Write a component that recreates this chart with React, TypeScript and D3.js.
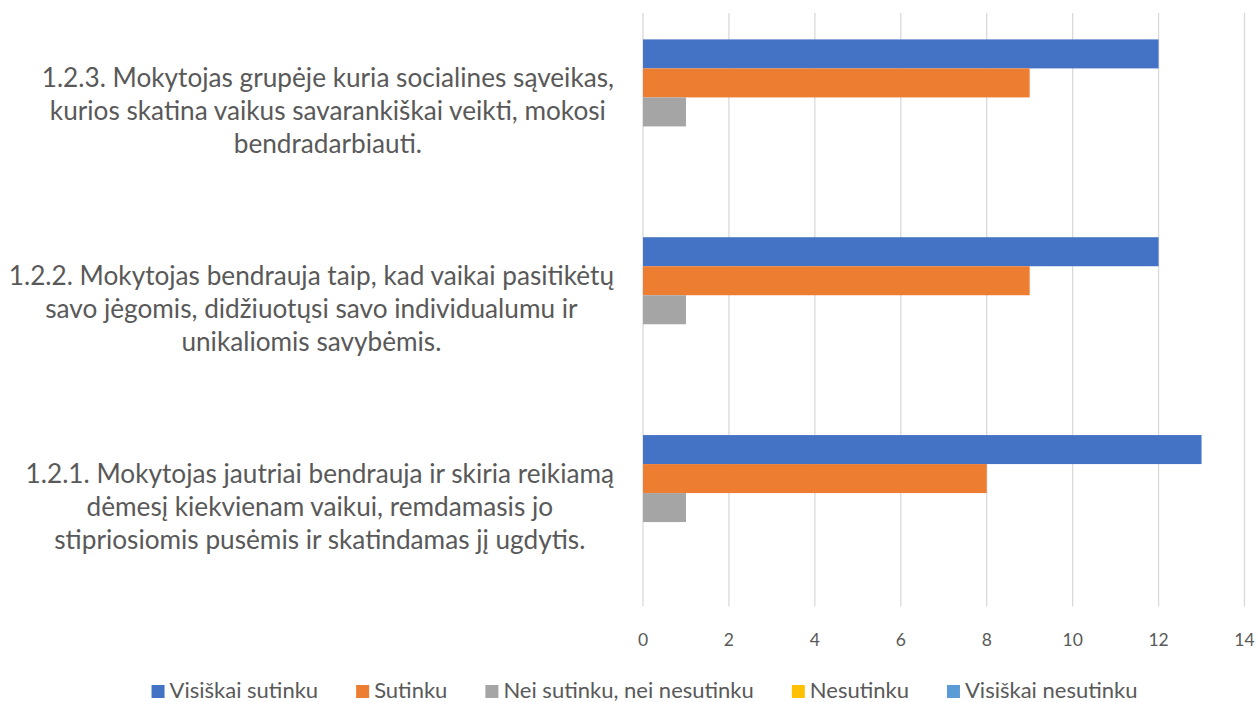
import { useEffect, useRef } from "react";
import * as d3 from "d3";

// categories, top of chart is the last one
const categories = ["1.2.1.", "1.2.2.", "1.2.3."];
const categoryLines = [
    [
        "1.2.1. Mokytojas jautriai bendrauja ir skiria reikiamą",
        "dėmesį kiekvienam vaikui, remdamasis jo",
        "stipriosiomis pusėmis ir skatindamas jį ugdytis.",
    ],
    [
        "1.2.2. Mokytojas bendrauja taip, kad vaikai pasitikėtų",
        "savo jėgomis, didžiuotųsi savo individualumu ir",
        "unikaliomis savybėmis.",
    ],
    [
        "1.2.3. Mokytojas grupėje kuria socialines sąveikas,",
        "kurios skatina vaikus savarankiškai veikti, mokosi",
        "bendradarbiauti.",
    ],
];

const seriesNames = [
    "Visiškai sutinku",
    "Sutinku",
    "Nei sutinku, nei nesutinku",
    "Nesutinku",
    "Visiškai nesutinku",
];
const seriesColors = ["#4472C4", "#ED7D31", "#A5A5A5", "#FFC000", "#5B9BD5"];

const visiskaiSutinku = [13, 12, 12];
const sutinku = [8, 9, 9];
const neiSutinkuNeiNesutinku = [1, 1, 1];
const nesutinku = [0, 0, 0];
const visiskaiNesutinku = [0, 0, 0];

const xTicks = [0, 2, 4, 6, 8, 10, 12, 14];

export default function App() {
    const svgRef = useRef<SVGSVGElement | null>(null);

    useEffect(() => {
        if (!svgRef.current) return;
        document.body.style.margin = "0";

        const svg = d3.select(svgRef.current);
        svg.selectAll("*").remove();

        const width = 1259;
        const height = 702;
        const font = "Lato, 'Open Sans', sans-serif";
        const textColor = "#595959";

        const plot = { left: 643, right: 1244.5, top: 13, bottom: 606.5 };

        const values = [visiskaiSutinku, sutinku, neiSutinkuNeiNesutinku, nesutinku, visiskaiNesutinku];

        const x = d3.scaleLinear().domain([0, 14]).range([plot.left, plot.right]);

        const y = d3
            .scaleBand()
            .domain([...categories].reverse())
            .range([plot.top, plot.bottom]);

        const inner = d3
            .scaleBand()
            .domain(seriesNames)
            .range([0, y.bandwidth()])
            .paddingInner(0)
            .paddingOuter(0.91);

        svg.attr("width", width).attr("height", height);

        // vertical gridlines
        svg.append("g")
            .selectAll("line")
            .data(xTicks)
            .enter()
            .append("line")
            .attr("x1", (d) => x(d))
            .attr("x2", (d) => x(d))
            .attr("y1", plot.top)
            .attr("y2", plot.bottom)
            .attr("stroke", "#D9D9D9")
            .attr("stroke-width", 1.3);

        // bars
        seriesNames.forEach((name, si) => {
            svg.append("g")
                .selectAll("rect")
                .data(categories.map((c, ci) => ({ c, v: values[si][ci] })))
                .enter()
                .append("rect")
                .attr("x", x(0))
                .attr("y", (d) => (y(d.c) || 0) + (inner(name) || 0))
                .attr("width", (d) => x(d.v) - x(0))
                .attr("height", inner.bandwidth())
                .attr("fill", seriesColors[si]);
        });

        // x tick labels
        svg.append("g")
            .selectAll("text")
            .data(xTicks)
            .enter()
            .append("text")
            .attr("x", (d) => x(d))
            .attr("y", 646)
            .attr("text-anchor", "middle")
            .attr("font-family", font)
            .attr("font-size", 17.5)
            .attr("fill", textColor)
            .text((d) => d);

        // category labels: lines centred within block, block right-aligned
        const labelRight = 614;
        const lineGap = 33;
        categories.forEach((c, ci) => {
            const lines = categoryLines[ci];
            const g = svg.append("g");
            const cy = (y(c) || 0) + y.bandwidth() / 2 + 8;
            const texts = g
                .selectAll("text")
                .data(lines)
                .enter()
                .append("text")
                .attr("y", (_, i) => cy + (i - (lines.length - 1) / 2) * lineGap)
                .attr("text-anchor", "middle")
                .attr("font-family", font)
                .attr("font-size", 26.2)
                .attr("fill", textColor)
                .text((d) => d);
            let maxW = 0;
            texts.each(function () {
                maxW = Math.max(maxW, (this as SVGTextElement).getComputedTextLength());
            });
            texts.attr("x", labelRight - maxW / 2);
        });

        // legend
        const legend = svg.append("g");
        const items = legend
            .selectAll("g")
            .data(seriesNames)
            .enter()
            .append("g");
        items
            .append("rect")
            .attr("width", 13)
            .attr("height", 13)
            .attr("y", 685)
            .attr("fill", (_, i) => seriesColors[i]);
        items
            .append("text")
            .attr("x", 18)
            .attr("y", 698)
            .attr("font-family", font)
            .attr("font-size", 22)
            .attr("fill", textColor)
            .text((d) => d);
        const widths: number[] = [];
        items.each(function () {
            const t = d3.select(this).select("text").node() as SVGTextElement;
            widths.push(18 + t.getComputedTextLength());
        });
        const spacing = 38;
        const total = d3.sum(widths) + spacing * (widths.length - 1);
        let cursor = 644.5 - total / 2;
        items.attr("transform", (_, i) => {
            const tx = cursor;
            cursor += widths[i] + spacing;
            return `translate(${tx},0)`;
        });
    }, []);

    return <svg ref={svgRef} style={{ display: "block" }} />;
}
